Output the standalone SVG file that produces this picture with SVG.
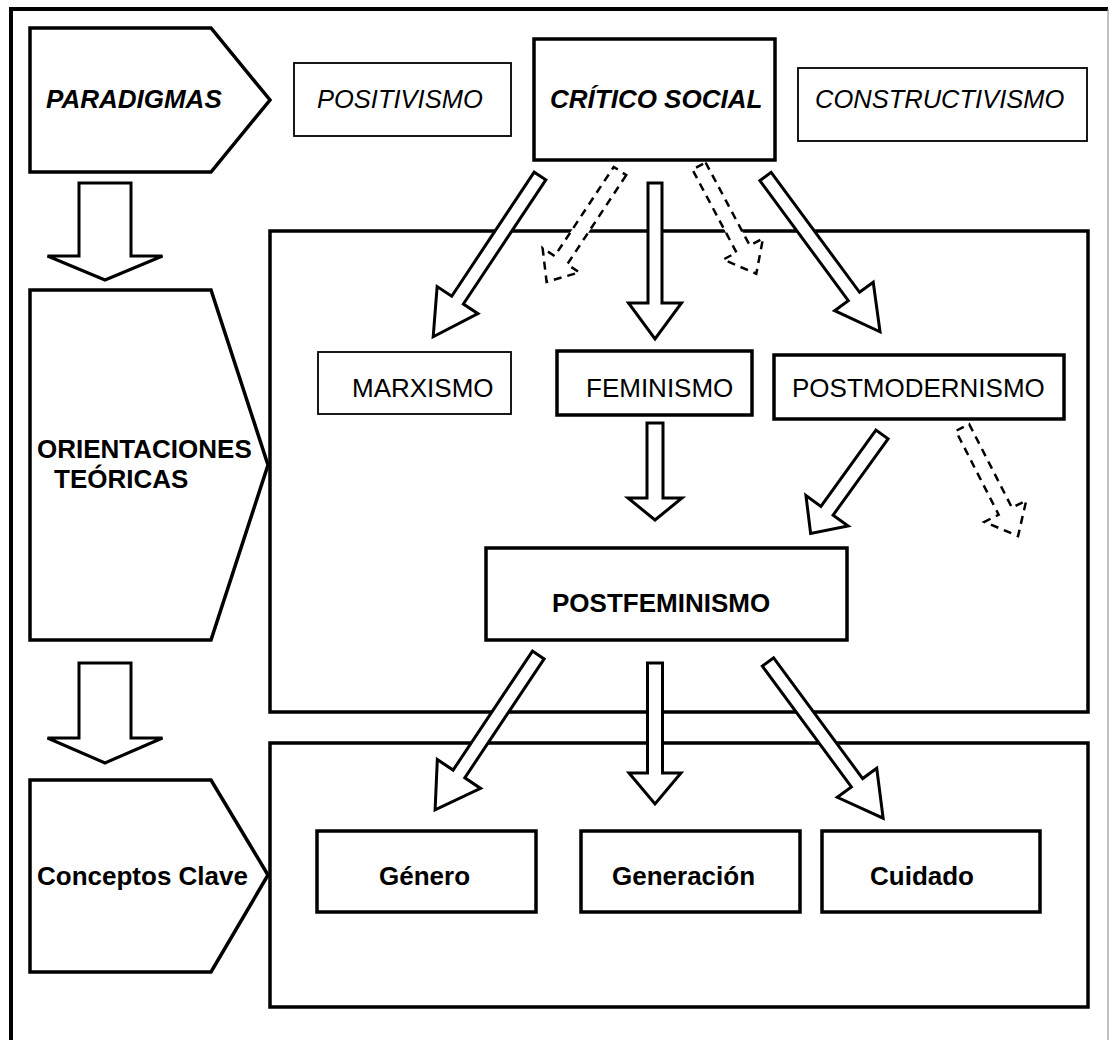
<svg xmlns="http://www.w3.org/2000/svg" width="1109" height="1040" viewBox="0 0 1109 1040">
<style>
  text { font-family: "Liberation Sans", Arial, sans-serif; font-size: 26px; fill: #000; }
  .b { font-weight: bold; }
  .i { font-style: italic; font-size: 25.5px; }
  .bi { font-weight: bold; font-style: italic; }
  .thick { fill: #fff; stroke: #000; stroke-width: 3.5; }
  .thin { fill: #fff; stroke: #000; stroke-width: 1.8; }
  .area { fill: none; stroke: #000; stroke-width: 3.5; }
  .arrow { fill: #fff; stroke: #000; stroke-width: 3; stroke-linejoin: miter; }
  .dashed { fill: #fff; stroke: #000; stroke-width: 2.5; stroke-dasharray: 8 6; }
</style>
<rect width="1109" height="1040" fill="#fff"/>
<g id="frame">
  <path d="M11,1040 V9 H1108" fill="none" stroke="#000" stroke-width="4"/>
  <line x1="1108" y1="9" x2="1108" y2="1040" stroke="#999" stroke-width="1.2"/>
</g>
<g id="areas">
  <rect id="area-orientaciones" class="area" x="270" y="231" width="818" height="481"/>
  <rect id="area-conceptos" class="area" x="270" y="743" width="818" height="264"/>
</g>
<g id="paradigmas">
  <polygon class="thick" points="30,28 211,28 270,100 211,172 30,172"/>
  <text class="bi" x="46" y="108">PARADIGMAS</text>
</g>
<g id="positivismo">
  <rect class="thin" x="294" y="63" width="217" height="73"/>
  <text class="i" x="317" y="108">POSITIVISMO</text>
</g>
<g id="critico-social">
  <rect class="thick" x="534" y="39" width="241" height="121"/>
  <text class="bi" x="550" y="108">CRÍTICO SOCIAL</text>
</g>
<g id="constructivismo">
  <rect class="thin" x="798" y="68" width="289" height="73"/>
  <text class="i" x="815" y="108">CONSTRUCTIVISMO</text>
</g>
<g id="orientaciones">
  <polygon class="thick" points="30,290 211,290 268,465 211,640 30,640"/>
  <text class="b" x="37" y="458">ORIENTACIONES</text>
  <text class="b" x="54" y="488">TEÓRICAS</text>
</g>
<g id="marxismo">
  <rect class="thin" x="318" y="352" width="193" height="62"/>
  <text x="352" y="397">MARXISMO</text>
</g>
<g id="feminismo">
  <rect class="thick" x="557" y="351" width="195" height="64"/>
  <text x="586" y="397">FEMINISMO</text>
</g>
<g id="postmodernismo">
  <rect class="thick" x="774" y="355" width="290" height="64"/>
  <text x="792" y="397">POSTMODERNISMO</text>
</g>
<g id="postfeminismo">
  <rect class="thick" x="486" y="548" width="361" height="92"/>
  <text class="b" x="552" y="612">POSTFEMINISMO</text>
</g>
<g id="conceptos-clave">
  <polygon class="thick" points="30,780 211,780 268,875 211,972 30,972"/>
  <text class="b" x="37" y="885">Conceptos Clave</text>
</g>
<g id="genero">
  <rect class="thick" x="317" y="831" width="219" height="81"/>
  <text class="b" x="379" y="885">Género</text>
</g>
<g id="generacion">
  <rect class="thick" x="581" y="831" width="219" height="81"/>
  <text class="b" x="612" y="885">Generación</text>
</g>
<g id="cuidado">
  <rect class="thick" x="822" y="831" width="218" height="81"/>
  <text class="b" x="870" y="885">Cuidado</text>
</g>
<g id="connectors">
  <path class="arrow" transform="translate(105,183) rotate(90)" d="M0,-26 H73 V-57.5 L97,0 L73,57.5 V26 H0 Z"/>
  <path class="arrow" transform="translate(105,663) rotate(90)" d="M0,-26 H75 V-57.5 L100,0 L75,57.5 V26 H0 Z"/>
  <path class="arrow" transform="translate(540,176) rotate(123.6)" d="M0,-7 H149 V-24.5 L193,0 L149,24.5 V7 H0 Z"/>
  <path class="arrow" transform="translate(655,183) rotate(90)" d="M0,-7 H120 V-26.5 L156,0 L120,26.5 V7 H0 Z"/>
  <path class="arrow" transform="translate(765.5,176.5) rotate(53.6)" d="M0,-7 H149 V-24 L193,0 L149,24 V7 H0 Z"/>
  <path class="dashed" transform="translate(620,171) rotate(123.5)" d="M0,-7.5 H107 V-22 L133,0 L107,22 V7.5 H0 Z"/>
  <path class="dashed" transform="translate(699,166) rotate(62)" d="M0,-7.5 H94 V-22.5 L122,0 L94,22.5 V7.5 H0 Z"/>
  <path class="arrow" transform="translate(655,423) rotate(90)" d="M0,-8 H75 V-27 L97,0 L75,27 V8 H0 Z"/>
  <path class="arrow" transform="translate(882,434.5) rotate(125.8)" d="M0,-7.5 H94 V-26 L122,0 L94,26 V7.5 H0 Z"/>
  <path class="dashed" transform="translate(962.5,427.5) rotate(62.9)" d="M0,-7.5 H94 V-23.5 L122,0 L94,23.5 V7.5 H0 Z"/>
  <path class="arrow" transform="translate(538.3,655) rotate(123.7)" d="M0,-7 H143 V-26 L186,0 L143,26 V7 H0 Z"/>
  <path class="arrow" transform="translate(655,663) rotate(90)" d="M0,-7.5 H110 V-26 L141,0 L110,26 V7.5 H0 Z"/>
  <path class="arrow" transform="translate(768,662) rotate(53.6)" d="M0,-7 H150 V-24.5 L194,0 L150,24.5 V7 H0 Z"/>
</g>
</svg>
